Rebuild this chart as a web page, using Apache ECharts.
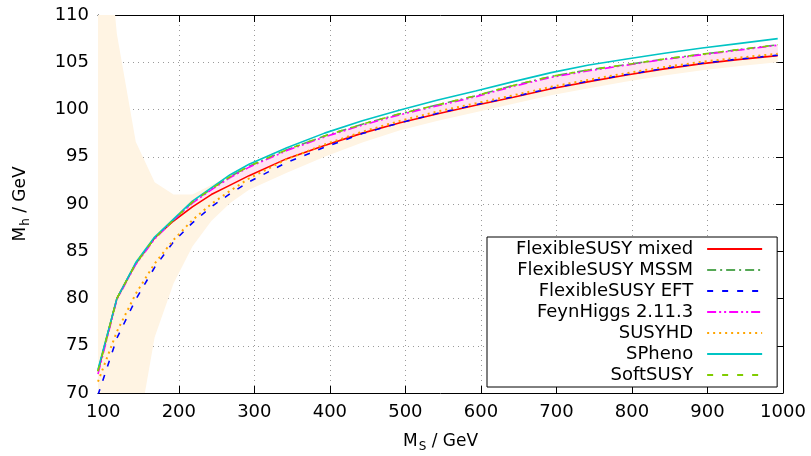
<!DOCTYPE html>
<html>
<head>
<meta charset="utf-8">
<script src="https://cdn.jsdelivr.net/npm/echarts@6/dist/echarts.min.js"></script>
<style>html,body{margin:0;padding:0;background:#fff}#c{width:811px;height:456px}</style>
</head>
<body>
<div id="c"></div>
<script>
// ---- data (M_S in GeV, M_h in GeV) ----
const MS = [93,118,143,168,193,218,243,268,293,343,393,443,493,543,593,643,693,743,793,843,893,943,993];
const fsMixed  = [72.3,80.0,83.7,86.4,88.2,89.7,91.0,92.0,93.0,94.8,96.2,97.5,98.6,99.55,100.45,101.3,102.2,102.95,103.65,104.3,104.85,105.3,105.7];
const fsMSSM   = [72.3,80.0,83.7,86.4,88.3,90.2,91.6,92.9,94.0,95.75,97.2,98.45,99.55,100.5,101.45,102.55,103.5,104.2,104.75,105.35,105.85,106.35,106.85];
const fsEFT    = [69.8,75.8,79.9,83.3,86.0,88.0,89.7,91.1,92.35,94.4,96.0,97.45,98.6,99.6,100.5,101.35,102.25,103.0,103.7,104.35,104.9,105.35,105.75];
const feynHiggs= [72.0,79.9,83.6,86.3,88.3,90.1,91.5,92.8,93.9,95.65,97.1,98.35,99.45,100.4,101.35,102.45,103.4,104.1,104.7,105.3,105.8,106.3,106.8];
const susyHD   = [71.2,76.5,80.5,83.7,86.2,88.3,90.0,91.4,92.7,94.75,96.3,97.65,98.8,99.8,100.65,101.5,102.4,103.15,103.85,104.5,105.05,105.5,105.9];
const sPheno   = [72.5,80.0,83.8,86.5,88.4,90.3,91.7,93.1,94.2,95.95,97.5,98.8,99.95,101.0,101.95,102.95,103.9,104.7,105.35,105.95,106.5,107.0,107.5];
const softSUSY = [72.3,80.0,83.7,86.4,88.3,90.2,91.6,92.9,94.0,95.75,97.2,98.45,99.55,100.5,101.45,102.55,103.5,104.2,104.75,105.35,105.85,106.35,106.85];
// uncertainty bands
const bandOrangeUp  = [129,108.0,96.6,92.3,91.0,91.0,92.0,93.0,94.0,95.7,97.1,98.35,99.45,100.4,101.3,102.3,103.2,103.9,104.5,105.1,105.6,106.1,106.6];
const bandOrangeLow = [40,52,64.5,75.9,81.6,85.5,88.2,90.1,91.5,93.3,95.0,96.5,97.8,98.8,99.7,100.6,101.5,102.25,102.95,103.6,104.15,104.6,105.0];
const MS_PINK = [193,218,243,268,293,343,393,443,493,543,593,643,693,743,793,843,893,943,993];
const bandPinkLow = [88.3,89.8,91.1,92.1,93.1,94.9,96.3,97.6,98.7,99.65,100.55,101.4,102.3,103.05,103.75,104.4,104.95,105.4,105.8];
const bandPinkUp  = [88.3,90.1,91.5,92.8,93.9,95.65,97.1,98.35,99.45,100.4,101.35,102.45,103.4,104.1,104.7,105.3,105.8,106.3,106.8];
const X_TICKS = [100,200,300,400,500,600,700,800,900,1000];

const FONT = 'DejaVu Sans';
const FS = 18;
const chart = echarts.init(document.getElementById('c'), null, {renderer:'canvas'});

function bandRender(xs, lo, hi, color) {
  return function (params, api) {
    const pts = [];
    for (let i = 0; i < xs.length; i++) pts.push(api.coord([xs[i], hi[i]]));
    for (let i = xs.length - 1; i >= 0; i--) pts.push(api.coord([xs[i], lo[i]]));
    const cs = params.coordSys;
    return {
      type: 'polygon',
      shape: { points: pts },
      style: { fill: color },
      clipPath: { type: 'rect', shape: { x: cs.x, y: cs.y, width: cs.width, height: cs.height } }
    };
  };
}

function lineSeries(name, arr, color, type, width) {
  return {
    name: name, type: 'line', xAxisIndex: 0, yAxisIndex: 0,
    data: MS.map((x, i) => [x, arr[i]]),
    symbol: 'none', showSymbol: false, clip: true, z: 5,
    lineStyle: { color: color, width: width || 1.5, type: type },
    itemStyle: { color: color }
  };
}

const axisCommon = {
  axisLine: { show: true, lineStyle: { color: '#000', width: 1 } },
  axisTick: { show: true, inside: true, length: 7, lineStyle: { color: '#000' } }
};
const subRich = {
  a: { fontFamily: FONT, fontSize: 17, color: '#000' },
  b: { fontFamily: FONT, fontSize: 12, color: '#000', padding: [10, 0, 0, 1] }
};

const option = {
  animation: false,
  backgroundColor: '#fff',
  grid: { left: 98, right: 28, top: 15, bottom: 63, containLabel: false, outerBoundsMode: 'none' },
  xAxis: [
    Object.assign({}, axisCommon, {
      type: 'value', min: 93, max: 1000, position: 'bottom',
      axisTick: { show: true, inside: true, length: 7, lineStyle: { color: '#000' }, customValues: X_TICKS },
      axisLabel: { customValues: X_TICKS, fontFamily: FONT, fontSize: FS, color: '#000', margin: 10,
                   formatter: v => String(v) },
      splitLine: { show: true, lineStyle: { color: '#9a9a9a', type: [1, 4], width: 1 } },
      name: '{a|M}{b|S}{a| / GeV}', nameLocation: 'middle', nameGap: 38,
      nameTextStyle: { rich: subRich }
    }),
    Object.assign({}, axisCommon, {
      type: 'value', min: 93, max: 1000, position: 'top',
      axisTick: { show: true, inside: true, length: 7, lineStyle: { color: '#000' }, customValues: X_TICKS },
      axisLabel: { show: false, customValues: X_TICKS },
      splitLine: { show: false }
    })
  ],
  yAxis: [
    Object.assign({}, axisCommon, {
      type: 'value', min: 70, max: 110, interval: 5, position: 'left',
      axisLabel: { fontFamily: FONT, fontSize: FS, color: '#000', margin: 9 },
      splitLine: { show: true, lineStyle: { color: '#9a9a9a', type: [1, 4], width: 1 } },
      name: '{a|M}{b|h}{a| / GeV}', nameLocation: 'middle', nameGap: 66, nameRotate: 90,
      nameTextStyle: { rich: subRich }
    }),
    Object.assign({}, axisCommon, {
      type: 'value', min: 70, max: 110, interval: 5, position: 'right',
      axisLabel: { show: false }, splitLine: { show: false }
    })
  ],
  legend: {
    orient: 'vertical', left: 487, top: 237, align: 'right',
    backgroundColor: '#fff', borderColor: '#000', borderWidth: 1, borderRadius: 0,
    padding: [2, 14, 2, 29], itemGap: 1, itemWidth: 55, itemHeight: 14,
    itemStyle: { color: 'rgba(0,0,0,0)', borderWidth: 0, opacity: 0 },
    textStyle: { fontFamily: FONT, fontSize: FS, color: '#000', lineHeight: 20, padding: [0, 9, 0, 0] },
    data: ['FlexibleSUSY mixed','FlexibleSUSY MSSM','FlexibleSUSY EFT','FeynHiggs 2.11.3','SUSYHD','SPheno','SoftSUSY'],
    z: 20
  },
  series: [
    { type: 'custom', name: 'bandOrange', xAxisIndex: 0, yAxisIndex: 0, data: [[500, 90]], z: 1, silent: true,
      renderItem: bandRender(MS, bandOrangeLow, bandOrangeUp, '#fff4e3') },
    { type: 'custom', name: 'bandPink', xAxisIndex: 0, yAxisIndex: 0, data: [[500, 90]], z: 2, silent: true,
      renderItem: bandRender(MS_PINK, bandPinkLow, bandPinkUp, '#ffe3f3') },
    lineSeries('FlexibleSUSY mixed', fsMixed, '#ff0000', 'solid', 1.6),
    lineSeries('FlexibleSUSY MSSM', fsMSSM, '#55a855', [9, 4, 2, 4], 1.6),
    lineSeries('FlexibleSUSY EFT', fsEFT, '#0000ff', [6, 9], 1.6),
    lineSeries('FeynHiggs 2.11.3', feynHiggs, '#ff00ff', [9, 3, 2, 3, 2, 3], 1.6),
    lineSeries('SUSYHD', susyHD, '#ffa500', [2, 4], 2),
    lineSeries('SPheno', sPheno, '#00c4c4', 'solid', 1.6),
    lineSeries('SoftSUSY', softSUSY, '#80cc00', [6, 9], 1.6)
  ]
};
chart.setOption(option);
</script>
</body>
</html>
